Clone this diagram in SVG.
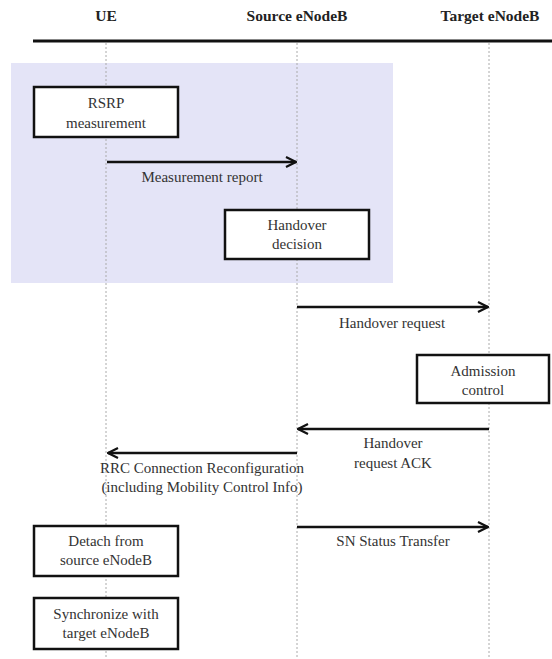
<svg xmlns="http://www.w3.org/2000/svg" width="552" height="659" viewBox="0 0 552 659">
<style>
text{font-family:"Liberation Serif","Times New Roman",serif;fill:#333;text-anchor:middle}
.h{font-weight:bold;font-size:15.5px;fill:#222}
.t{font-size:15px}
.box{fill:#fff;stroke:#111;stroke-width:2.5}
.life{stroke:#aaa;stroke-width:1;stroke-dasharray:2 2}
.msg{stroke:#111;stroke-width:2.5;fill:none}
</style>
<defs>
<marker id="ah" viewBox="0 0 12 12" refX="11" refY="6" markerWidth="12" markerHeight="12" markerUnits="userSpaceOnUse" orient="auto">
<path d="M1,1 L11,6 L1,11" fill="none" stroke="#111" stroke-width="2.2"/>
</marker>
</defs>
<rect x="0" y="0" width="552" height="659" fill="#fff"/>
<rect id="region" x="11" y="63" width="382" height="220" fill="#e4e4f7"/>
<g id="header">
<text class="h" x="106" y="21">UE</text>
<text class="h" x="297" y="21">Source eNodeB</text>
<text class="h" x="490" y="21">Target eNodeB</text>
<line x1="33" y1="41" x2="552" y2="41" stroke="#111" stroke-width="3"/>
</g>
<g id="lifelines">
<line class="life" x1="106" y1="43" x2="106" y2="659"/>
<line class="life" x1="297" y1="43" x2="297" y2="659"/>
<line class="life" x1="489" y1="43" x2="489" y2="659"/>
</g>
<g id="rsrp"><rect class="box" x="34" y="87" width="144" height="50"/><text class="t" x="106" y="108">RSRP</text><text class="t" x="106" y="128">measurement</text></g>
<g id="hodecision"><rect class="box" x="225" y="210" width="144" height="49"/><text class="t" x="297" y="230">Handover</text><text class="t" x="297" y="249">decision</text></g>
<g id="admission"><rect class="box" x="417" y="355" width="132" height="48"/><text class="t" x="483" y="376">Admission</text><text class="t" x="483" y="395">control</text></g>
<g id="detach"><rect class="box" x="34" y="526" width="144" height="50"/><text class="t" x="106" y="546">Detach from</text><text class="t" x="106" y="565">source eNodeB</text></g>
<g id="sync"><rect class="box" x="34" y="598" width="144" height="51"/><text class="t" x="106" y="619">Synchronize with</text><text class="t" x="106" y="638">target eNodeB</text></g>
<g id="connectors">
<line class="msg" x1="107" y1="162" x2="296" y2="162" marker-end="url(#ah)"/>
<text class="t" x="202" y="182">Measurement report</text>
<line class="msg" x1="297" y1="307" x2="488" y2="307" marker-end="url(#ah)"/>
<text class="t" x="392" y="328">Handover request</text>
<line class="msg" x1="489" y1="429" x2="298" y2="429" marker-end="url(#ah)"/>
<text class="t" x="393" y="448">Handover</text>
<text class="t" x="393" y="468">request ACK</text>
<line class="msg" x1="297" y1="453" x2="108" y2="453" marker-end="url(#ah)"/>
<text class="t" x="202" y="473">RRC Connection Reconfiguration</text>
<text class="t" x="202" y="492">(including Mobility Control Info)</text>
<line class="msg" x1="297" y1="527" x2="488" y2="527" marker-end="url(#ah)"/>
<text class="t" x="393" y="546">SN Status Transfer</text>
</g>
</svg>
